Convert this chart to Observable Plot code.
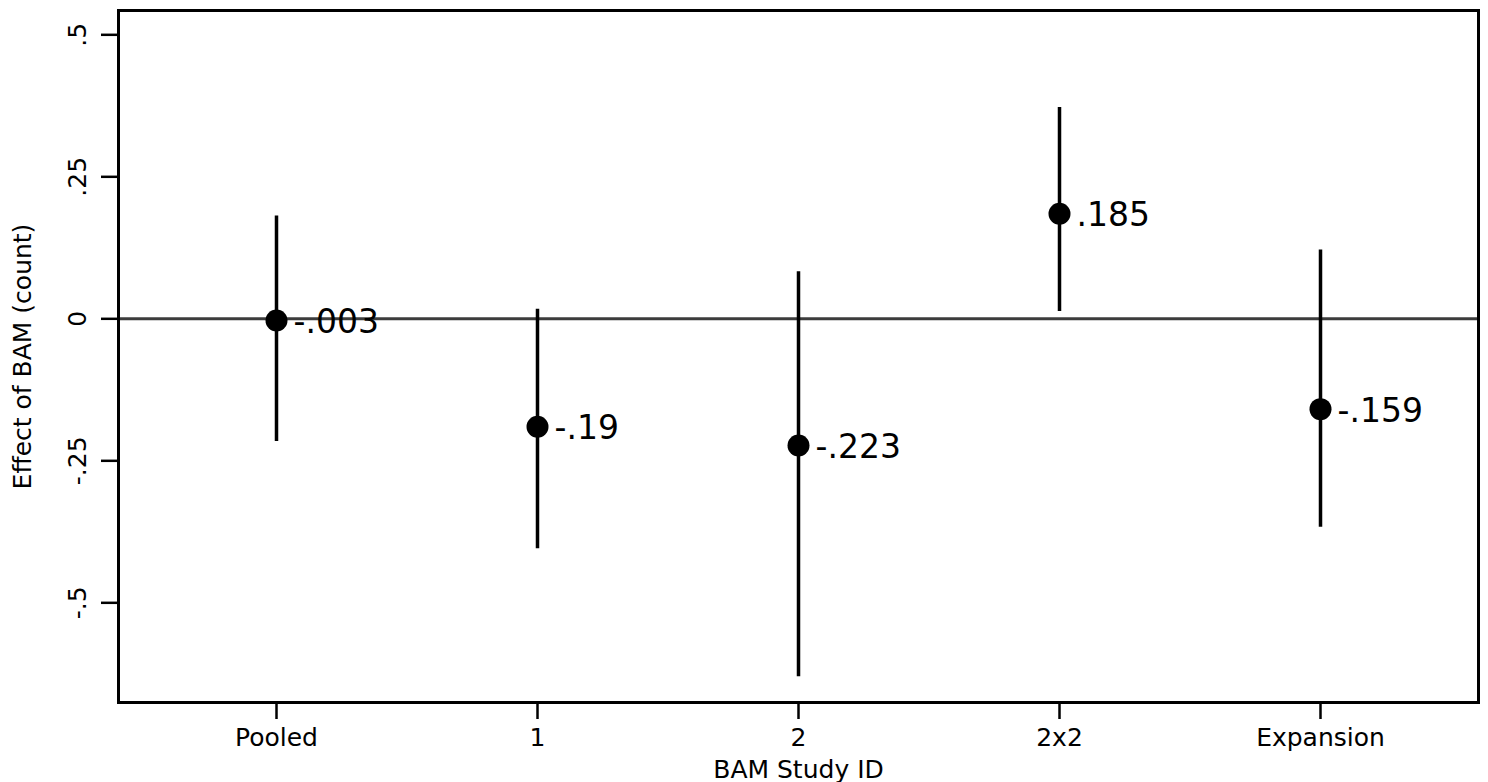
<!DOCTYPE html>
<html>
<head>
<meta charset="utf-8">
<script src="https://cdn.jsdelivr.net/npm/d3@7"></script>
<script src="https://cdn.jsdelivr.net/npm/@observablehq/plot@0.6"></script>
<style>
  html, body { margin: 0; padding: 0; background: #fff; }
  svg { display: block; }
</style>
</head>
<body>
<div id="chart"></div>
<script>
const studies = ["Pooled", "1", "2", "2x2", "Expansion"];
const estimates = [-0.003, -0.19, -0.223, 0.185, -0.159];
const lower = [-0.216, -0.405, -0.630, 0.013, -0.367];
const upper = [0.181, 0.017, 0.083, 0.372, 0.121];
const pointLabels = ["-.003", "-.19", "-.223", ".185", "-.159"];
const yTicks = [-0.5, -0.25, 0, 0.25, 0.5];
const yTickLabels = ["-.5", "-.25", "0", ".25", ".5"];

const data = studies.map((s, i) => ({
  study: s, est: estimates[i], lo: lower[i], hi: upper[i], label: pointLabels[i]
}));

const font = "DejaVu Sans";

const chart = Plot.plot({
  width: 1488,
  height: 782,
  marginLeft: 118,
  marginRight: 10,
  marginTop: 10,
  marginBottom: 80,
  style: { fontFamily: font, background: "#fff", color: "#000" },
  x: { type: "point", domain: studies, padding: 0.6 },
  y: { domain: [-0.6755, 0.5428] },
  marks: [
    Plot.ruleY([0], { stroke: "#3c3c3c", strokeWidth: 3 }),
    Plot.ruleX(data, { x: "study", y1: "lo", y2: "hi", stroke: "#000", strokeWidth: 3.5 }),
    Plot.dot(data, { x: "study", y: "est", r: 11, fill: "#000", stroke: "none" }),
    Plot.text(data, { x: "study", y: "est", text: "label", textAnchor: "start", dx: 17, dy: 2, fontSize: 33, fill: "#000" }),
    // y tick marks
    Plot.axisY({
      ticks: yTicks,
      tickSize: 17,
      strokeWidth: 2.5,
      text: null,
      label: null
    }),
    // y tick labels (rotated)
    Plot.axisY({
      ticks: yTicks,
      tickFormat: (d) => yTickLabels[yTicks.indexOf(d)],
      tickSize: 0,
      tickPadding: 33,
      fontSize: 25,
      rotate: -90,
      textAnchor: "middle",
      lineAnchor: "bottom",
      label: null
    }),
    // y title
    Plot.axisY({
      ticks: [],
      tickSize: 0,
      label: "Effect of BAM (count)",
      labelAnchor: "center",
      labelArrow: "none",
      labelOffset: 105,
      fontSize: 25
    }),
    Plot.axisX({
      tickSize: 17,
      tickPadding: 9,
      strokeWidth: 2.5,
      fontSize: 25,
      label: "BAM Study ID",
      labelAnchor: "center",
      labelArrow: "none",
      labelOffset: 75
    }),
    Plot.frame({ stroke: "#000", strokeWidth: 3 })
  ]
});

document.getElementById("chart").appendChild(chart);
</script>
</body>
</html>
